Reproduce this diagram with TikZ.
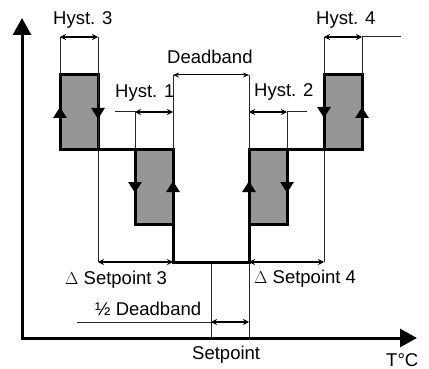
\documentclass[tikz,border=0pt]{standalone}
\usepackage{fontspec}
\setmainfont{Liberation Sans}
\usetikzlibrary{arrows.meta}
\definecolor{boxgray}{RGB}{150,150,150}
\definecolor{thingray}{RGB}{40,40,40}
\begin{document}
\begin{tikzpicture}[x=1pt,y=-1pt,
  thinline/.style={line width=1pt,draw=thingray},
  thickline/.style={line width=3pt,line cap=rect},
  hbox/.style={fill=boxgray,draw=black,line width=3pt},
  harrow/.style={line width=2pt,{Stealth[length=6pt,width=6pt]}-{Stealth[length=6pt,width=6pt]}},
  darrow/.style={line width=1pt,{Stealth[length=6pt,width=5pt]}-{Stealth[length=6pt,width=5pt]}},
  sarrow/.style={line width=1.5pt,{Stealth[length=6pt,width=6pt]}-{Stealth[length=6pt,width=6pt]}},
  tri/.style={line width=3pt,-{Triangle[length=11pt,width=13pt]}},
  axis/.style={line width=3pt,-{Triangle[length=17pt,width=18pt]}},
  lbl/.style={anchor=base west,inner sep=0pt,font=\fontsize{18.5}{20}\selectfont}]
\useasboundingbox (0,0) rectangle (429,369);
% key coordinates
\coordinate (origin) at (22,338);
\coordinate (ytop) at (22,18);
\coordinate (xend) at (417,338);
\coordinate (h3l) at (60,37);   \coordinate (h3r) at (98,37);
\coordinate (h1a) at (115,112); \coordinate (h1l) at (135,112); \coordinate (h1r) at (173,112);
\coordinate (h2l) at (249,112); \coordinate (h2r) at (287,112); \coordinate (h2e) at (307,112);
\coordinate (h4l) at (324,37);  \coordinate (h4r) at (362,37);  \coordinate (h4e) at (401,37);
\coordinate (dbl) at (173,75);  \coordinate (dbr) at (249,75);
\coordinate (s3l) at (98,262);  \coordinate (s3r) at (173,262);
\coordinate (s4l) at (249,262); \coordinate (s4r) at (324,262);
\coordinate (hda) at (77,322);  \coordinate (hdl) at (211,322); \coordinate (hdr) at (249,322);
\coordinate (spt) at (211,262); \coordinate (spb) at (211,338);
\coordinate (dbb) at (249,338);
% boxes
\filldraw[hbox] (60,75) rectangle (98,150);
\filldraw[hbox] (135,150) rectangle (173,224);
\filldraw[hbox] (249,150) rectangle (287,224);
\filldraw[hbox] (324,75) rectangle (362,150);
% thin guide lines
\draw[thinline] (h3l) -- (60,75);
\draw[thinline] (h3r) -- (s3l);
\draw[thinline] (h1a) -- (h1l) -- (135,150);
\draw[thinline] (dbl) -- (173,150);
\draw[thinline] (dbr) -- (249,150);
\draw[thinline] (s4l) -- (dbb);
\draw[thinline] (h2r) -- (287,150);
\draw[thinline] (h2r) -- (h2e);
\draw[thinline] (h4l) -- (324,75);
\draw[thinline] (324,150) -- (s4r);
\draw[thinline] (h4r) -- (362,75);
\draw[thinline] (h4r) -- (h4e);
\draw[thinline] (hda) -- (hdl);
\draw[thinline] (spt) -- (spb);
% thick steps
\draw[thickline] (98,150) -- (135,150);
\draw[thickline] (173,224) -- (s3r) -- (s4l) -- (249,224);
\draw[thickline] (287,150) -- (324,150);
% dimension arrows
\draw[harrow] (h3l) -- (h3r);
\draw[harrow] (h1l) -- (h1r);
\draw[harrow] (h2l) -- (h2r);
\draw[harrow] (h4l) -- (h4r);
\draw[darrow] (dbl) -- (dbr);
\draw[sarrow] (s3l) -- (s3r);
\draw[sarrow] (s4l) -- (s4r);
\draw[harrow] (hdl) -- (hdr);
% direction arrows on box sides
\draw[tri] (60,122) -- (60,107);
\draw[tri] (98,104) -- (98,119);
\draw[tri] (135,178) -- (135,193);
\draw[tri] (173,196) -- (173,181);
\draw[tri] (249,196) -- (249,181);
\draw[tri] (287,178) -- (287,193);
\draw[tri] (324,104) -- (324,118);
\draw[tri] (362,122) -- (362,107);
% axes
\draw[axis] (origin) -- (ytop);
\draw[axis] ([xshift=-1.5pt]origin) -- (xend);
% labels
\node[lbl] (l3) at (53,25) {Hyst. 3};
\node[lbl] (l1) at (115,98) {Hyst. 1};
\node[lbl] (ldb) at (167,64) {Deadband};
\node[lbl] (l2) at (254,97) {Hyst. 2};
\node[lbl] (l4) at (316,25) {Hyst. 4};
\node[lbl] (ls3) at (65,284) {$\Delta$ Setpoint 3};
\node[lbl] (ls4) at (254,283) {$\Delta$ Setpoint 4};
\node[lbl] (lhd) at (95,315) {½ Deadband};
\node[lbl] (lsp) at (192,359) {Setpoint};
\node[lbl] (lt) at (386,366) {T°C};
\end{tikzpicture}
\end{document}
